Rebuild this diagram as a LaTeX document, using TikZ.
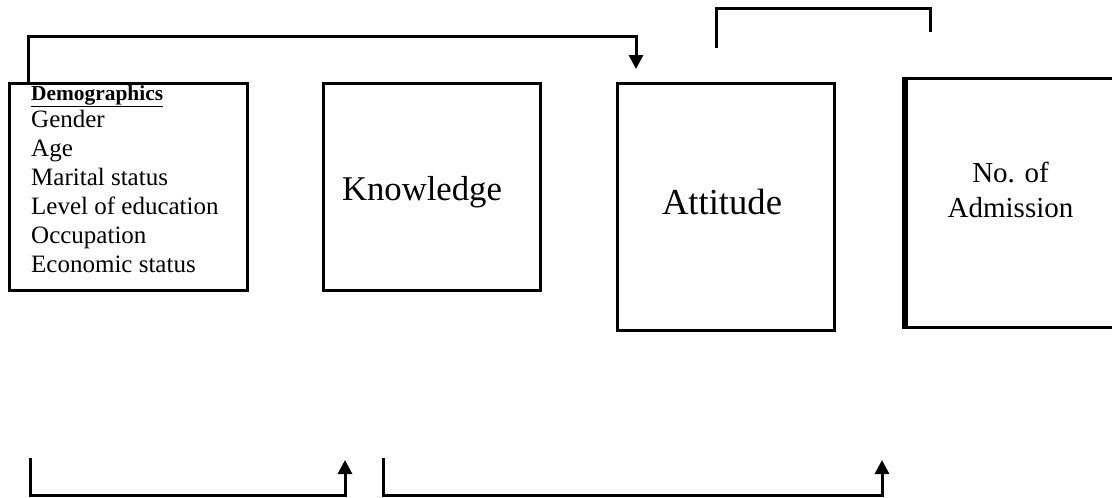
\documentclass[tikz,border=0pt]{standalone}
\usepackage{fontspec}
\setmainfont{Liberation Serif}
\usetikzlibrary{arrows.meta}
\begin{document}
\begin{tikzpicture}[x=1pt,y=-1pt,
  box/.style={draw,line width=3pt,inner sep=0pt},
  conn/.style={line width=3pt,line join=miter},
  arr/.style={conn,-{Triangle[width=14pt,length=14pt]}},
]
\clip (0,0) rectangle (1112,498);
% boxes
\node[box,minimum width=238pt,minimum height=207pt] (demo) at (128,186.5) {};
\node[anchor=north west,inner sep=0pt,align=left,font=\fontsize{25}{29}\selectfont]
  (demotxt) at (31,85.5)
  {{\bfseries\fontsize{21.4}{27}\selectfont\underline{Demographics}}\\[-2pt]
   Gender\\Age\\Marital status\\Level of education\\Occupation\\Economic status};
\node[box,minimum width=217pt,minimum height=207pt,font=\fontsize{34.7}{40}\selectfont,
  text height=27pt,text depth=0pt] (know) at (431.5,186.5) {Knowledge\hspace*{19pt}};
\node[box,minimum width=217pt,minimum height=247pt,font=\fontsize{36.6}{42}\selectfont,
  text height=25pt,text depth=10pt] (att) at (725.5,206.5) {Attitude\hspace*{7pt}};
\node[box,minimum width=219pt,minimum height=249pt] (adm) at (1015.5,202.5) {};
\draw[line width=5pt] (adm.north west) -- (adm.south west);
\node[align=center,inner sep=0pt,font=\fontsize{29}{35}\selectfont] (admtxt)
  at (1010.5,190) {No. of\\Admission};
% connectors
\coordinate (tA) at (636,69);
\draw[arr] ([xshift=21pt]demo.north west) -- ++(0,-45) -| (tA);
\coordinate (b1) at (716,48);
\coordinate (b2) at (930,32);
\draw[conn] (b1) -- ++(0,-40) -| (b2);
\coordinate (l1) at (30,458);
\coordinate (l2) at (345,460);
\draw[arr] (l1) -- ++(0,37) -| (l2);
\coordinate (r1) at (383,458);
\coordinate (r2) at (882,460);
\draw[arr] (r1) -- ++(0,37) -| (r2);
\end{tikzpicture}
\end{document}
